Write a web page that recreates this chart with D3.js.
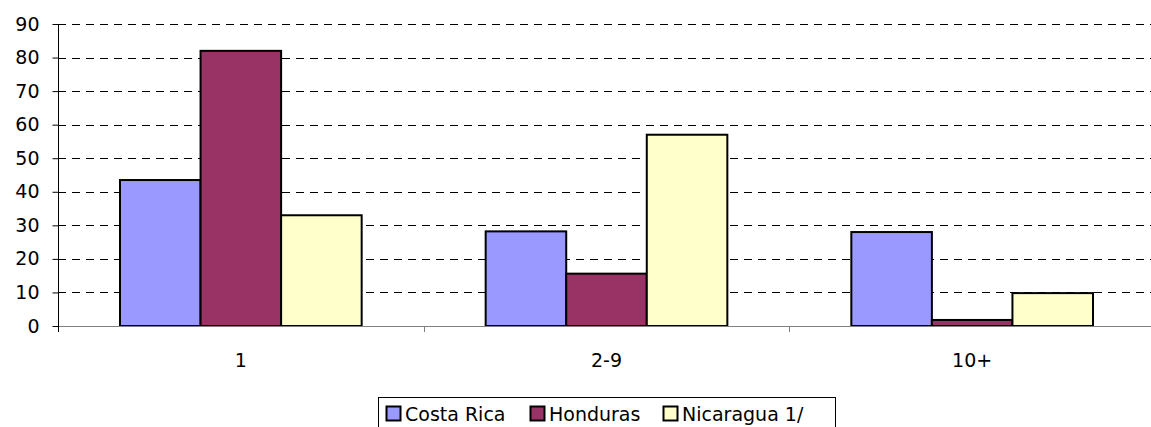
<!DOCTYPE html>
<html>
<head>
<meta charset="utf-8">
<script src="https://cdn.jsdelivr.net/npm/d3@7"></script>
<style>
  body { margin: 0; background: #fff; }
  text { font-family: Verdana, "DejaVu Sans", sans-serif; fill: #000; }
</style>
</head>
<body>
<svg width="1151" height="427"></svg>
<script>
var categories = ["1", "2-9", "10+"];
var seriesNames = ["Costa Rica", "Honduras", "Nicaragua 1/"];
var seriesColors = ["#9999ff", "#993366", "#ffffcc"];
var costaRica = [43.5, 28.2, 28];
var honduras = [82, 15.6, 1.8];
var nicaragua = [33, 57, 9.8];
var yTicks = [0, 10, 20, 30, 40, 50, 60, 70, 80, 90];

var values = [costaRica, honduras, nicaragua];

var svg = d3.select("svg"),
    margin = {left: 58, top: 24, right: -4, bottom: 101},
    width = 1151 - margin.left - margin.right,
    height = 427 - margin.top - margin.bottom;

var g = svg.append("g").attr("transform", "translate(" + margin.left + "," + margin.top + ")");

var x = d3.scaleBand().domain(categories).range([0, width]).paddingInner(0).paddingOuter(0);
var x1 = d3.scaleBand().domain(seriesNames).range([62, x.bandwidth() - 62]);
var y = d3.scaleLinear().domain([0, 90]).range([height, 0]);

// gridlines
g.selectAll(".grid")
  .data(yTicks.slice(1))
  .enter().append("line")
    .attr("x1", 0).attr("x2", width)
    .attr("y1", function(d) { return Math.round(y(d)) + 0.5; })
    .attr("y2", function(d) { return Math.round(y(d)) + 0.5; })
    .attr("stroke", "#000")
    .attr("stroke-dasharray", "8,6");

// bars
var groups = g.selectAll(".grp")
  .data(categories)
  .enter().append("g")
    .attr("transform", function(d) { return "translate(" + x(d) + ",0)"; });

groups.selectAll("rect")
  .data(function(c, i) { return seriesNames.map(function(s, j) { return {s: s, j: j, v: values[j][i]}; }); })
  .enter().append("rect")
    .attr("x", function(d) { return x1(d.s); })
    .attr("y", function(d) { return y(d.v); })
    .attr("width", x1.bandwidth())
    .attr("height", function(d) { return height - y(d.v); })
    .attr("fill", function(d) { return seriesColors[d.j]; })
    .attr("stroke", "#000")
    .attr("stroke-width", 2);

// x axis
g.append("line")
  .attr("x1", 0).attr("x2", width)
  .attr("y1", height + 0.5).attr("y2", height + 0.5)
  .attr("stroke", "#808080");

g.selectAll(".xtick")
  .data(categories.slice(1))
  .enter().append("line")
    .attr("x1", function(d) { return Math.round(x(d)) + 0.5; })
    .attr("x2", function(d) { return Math.round(x(d)) + 0.5; })
    .attr("y1", height).attr("y2", height + 6)
    .attr("stroke", "#808080");

g.selectAll(".xlab")
  .data(categories)
  .enter().append("text")
    .attr("x", function(d) { return x(d) + x.bandwidth() / 2; })
    .attr("y", height + 41)
    .attr("text-anchor", "middle")
    .style("font-size", "19px")
    .text(function(d) { return d; });

// y axis
var yAxis = d3.axisLeft(y).tickValues(yTicks).tickSize(6).tickPadding(13);
var ya = g.append("g").attr("transform", "translate(0.5,0)").call(yAxis);
ya.attr("font-family", null).attr("font-size", null);
ya.select(".domain").attr("stroke", "#000").attr("d", "M0," + (height + 6) + "V0");
ya.selectAll(".tick line").attr("stroke", "#000");
ya.selectAll("text").style("font-size", "19px");

// legend
var legend = svg.append("g").attr("transform", "translate(378,397)");
legend.append("rect")
  .attr("x", 0.5).attr("y", 0.5).attr("width", 457).attr("height", 40)
  .attr("fill", "#fff").attr("stroke", "#000");

var lx = [8, 152, 285];
var items = legend.selectAll(".item")
  .data(seriesNames)
  .enter().append("g")
    .attr("transform", function(d, i) { return "translate(" + lx[i] + ",0)"; });
items.append("rect")
  .attr("x", 0.5).attr("y", 9.5).attr("width", 14).attr("height", 14)
  .attr("fill", function(d, i) { return seriesColors[i]; })
  .attr("stroke", "#000").attr("stroke-width", 2);
items.append("text")
  .attr("x", 19).attr("y", 24)
  .style("font-size", "19px")
  .text(function(d) { return d; });
</script>
</body>
</html>
